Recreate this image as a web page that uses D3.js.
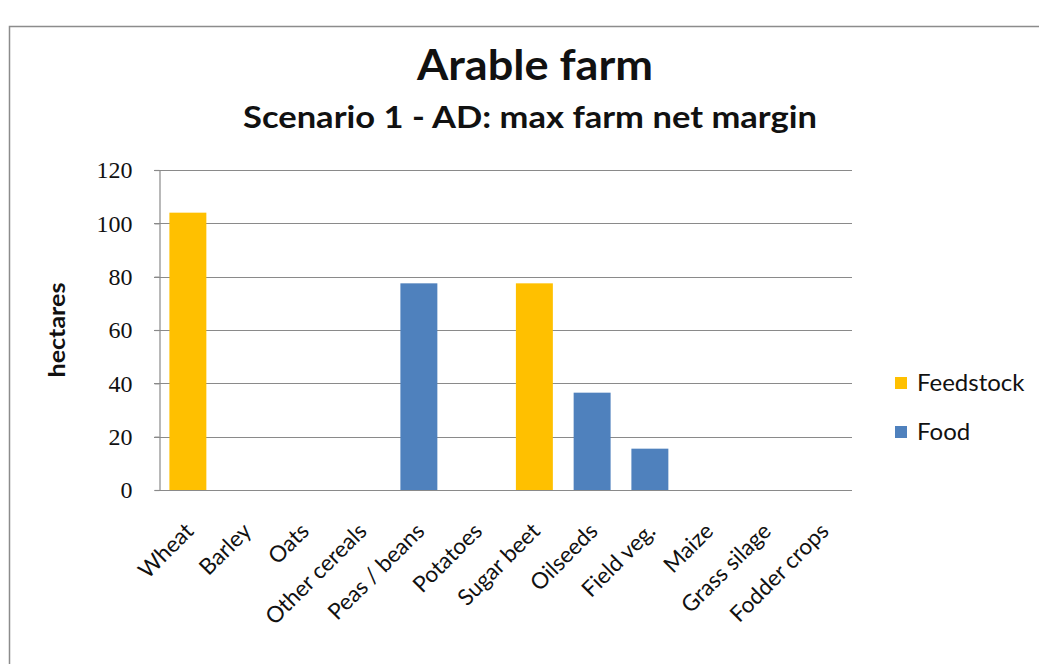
<!DOCTYPE html>
<html>
<head>
<meta charset="utf-8">
<script src="https://cdn.jsdelivr.net/npm/d3@7"></script>
<style>
  html, body { margin: 0; padding: 0; background: #fff; }
  svg { display: block; }
</style>
</head>
<body>
<svg id="chart" width="1039" height="664"></svg>
<script>
// Crop areas (hectares) chosen by the optimiser, split by use
const categories = ["Wheat", "Barley", "Oats", "Other cereals", "Peas / beans", "Potatoes",
  "Sugar beet", "Oilseeds", "Field veg.", "Maize", "Grass silage", "Fodder crops"];
const feedstock = [104, 0, 0, 0, 0, 0, 77.5, 0, 0, 0, 0, 0];
const food      = [0, 0, 0, 0, 77.5, 0, 0, 36.5, 15.5, 0, 0, 0];
const seriesNames = ["Feedstock", "Food"];
const seriesColors = ["#FFC000", "#4F81BD"];
const yTicks = [0, 20, 40, 60, 80, 100, 120];

const svg = d3.select("#chart");
const W = 1039, H = 664;
const plot = { left: 159, right: 852, top: 170, bottom: 490 };
const sansFont = "Lato, 'Open Sans', sans-serif";
const ink = "#111";
const gridColor = "#8a8a8a";

// outer frame
svg.append("rect")
  .attr("x", 9.5).attr("y", 26.5)
  .attr("width", W + 20).attr("height", H + 20)
  .attr("fill", "#fff").attr("stroke", "#8c8c8c").attr("stroke-width", 1.5);

// titles
svg.append("text")
  .attr("x", 535).attr("y", 80)
  .attr("text-anchor", "middle")
  .attr("font-family", sansFont).attr("font-weight", "bold")
  .attr("font-size", 42).attr("fill", ink)
  .attr("textLength", 236).attr("lengthAdjust", "spacingAndGlyphs")
  .text("Arable farm");
svg.append("text")
  .attr("x", 530).attr("y", 128)
  .attr("text-anchor", "middle")
  .attr("font-family", sansFont).attr("font-weight", "bold")
  .attr("font-size", 30).attr("fill", ink)
  .attr("textLength", 574).attr("lengthAdjust", "spacingAndGlyphs")
  .text("Scenario 1 - AD: max farm net margin");

const x = d3.scaleBand().domain(categories)
  .range([plot.left, plot.right]).paddingInner(0.36).paddingOuter(0.18);
const y = d3.scaleLinear().domain([0, 120]).range([plot.bottom, plot.top]);

// gridlines
svg.append("g").selectAll("line").data(yTicks.filter(d => d > 0)).join("line")
  .attr("x1", plot.left - 5).attr("x2", plot.right)
  .attr("y1", d => Math.round(y(d)) + 0.5).attr("y2", d => Math.round(y(d)) + 0.5)
  .attr("stroke", gridColor).attr("stroke-width", 1.2);

// bars: each category has a single non-zero series
const bars = categories.map((c, i) => ({
  cat: c,
  value: feedstock[i] > 0 ? feedstock[i] : food[i],
  series: feedstock[i] > 0 ? 0 : 1
})).filter(d => d.value > 0);

svg.append("g").selectAll("rect").data(bars).join("rect")
  .attr("x", d => x(d.cat)).attr("width", x.bandwidth())
  .attr("y", d => y(d.value)).attr("height", d => y(0) - y(d.value))
  .attr("fill", d => seriesColors[d.series]);

// y axis
const yAxis = svg.append("g")
  .attr("transform", `translate(${plot.left + 0.5},0)`)
  .call(d3.axisLeft(y).tickValues(yTicks).tickSize(5).tickPadding(22));
yAxis.select(".domain").attr("stroke", gridColor).attr("stroke-width", 1.2);
yAxis.selectAll(".tick line").attr("stroke", gridColor).attr("stroke-width", 1.2);
yAxis.selectAll("text")
  .attr("font-family", "'Liberation Serif', 'Times New Roman', serif")
  .attr("font-size", 24).attr("fill", ink);

// x axis
const xAxis = svg.append("g")
  .attr("transform", `translate(0,${plot.bottom + 0.5})`)
  .call(d3.axisBottom(x).tickSize(0).tickPadding(0));
xAxis.select(".domain").attr("stroke", gridColor).attr("stroke-width", 1.2)
  .attr("d", `M${plot.left},0H${plot.right}`);
xAxis.selectAll("text")
  .attr("font-family", sansFont).attr("font-size", 22.5).attr("fill", ink)
  .attr("text-anchor", "end")
  .attr("dy", "0")
  .attr("transform", "translate(7,42) rotate(-45)");

// axis title
svg.append("text")
  .attr("transform", `translate(65,${(plot.top + plot.bottom) / 2}) rotate(-90)`)
  .attr("text-anchor", "middle")
  .attr("font-family", sansFont).attr("font-weight", "bold")
  .attr("font-size", 22).attr("fill", ink)
  .attr("textLength", 95).attr("lengthAdjust", "spacingAndGlyphs")
  .text("hectares");

// legend
const legend = svg.append("g").selectAll("g").data(seriesNames).join("g")
  .attr("transform", (d, i) => `translate(895,${383 + i * 49})`);
legend.append("rect")
  .attr("x", 0).attr("y", -6).attr("width", 12).attr("height", 12)
  .attr("fill", (d, i) => seriesColors[i]);
legend.append("text")
  .attr("x", 22).attr("y", 8)
  .attr("font-family", sansFont).attr("font-size", 24).attr("fill", ink)
  .text(d => d);
</script>
</body>
</html>
